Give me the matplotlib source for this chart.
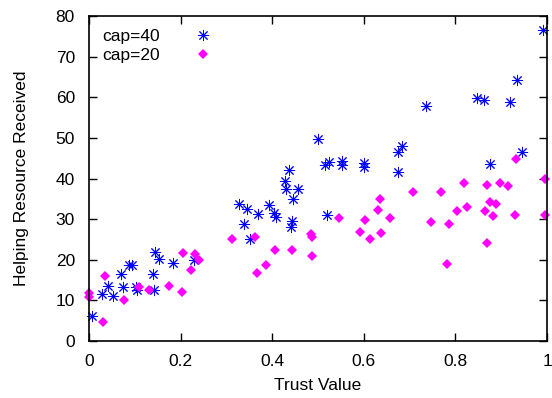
import matplotlib
matplotlib.use('Agg')
import matplotlib.pyplot as plt

plt.rcParams['font.family'] = ['Liberation Sans', 'DejaVu Sans']

# cap=40 series (blue asterisks)
trust40 = [0.007, 0.029, 0.042, 0.052, 0.070, 0.075, 0.088, 0.095, 0.103, 0.104,
           0.140, 0.143, 0.145, 0.152, 0.183, 0.229, 0.328, 0.346, 0.338, 0.370,
           0.351, 0.394, 0.405, 0.408, 0.437, 0.427, 0.430, 0.456, 0.446, 0.443,
           0.441, 0.501, 0.516, 0.525, 0.552, 0.552, 0.600, 0.601, 0.519, 0.674,
           0.674, 0.991, 0.934, 0.848, 0.862, 0.920, 0.736, 0.684, 0.946, 0.876]
res40 = [6.2, 11.6, 13.5, 11.2, 16.5, 13.2, 18.6, 18.8, 13.4, 12.6,
         16.5, 12.6, 21.8, 20.3, 19.3, 19.9, 33.8, 32.6, 28.7, 31.2,
         25.2, 33.4, 31.4, 30.6, 42.2, 39.5, 37.3, 37.5, 34.9, 29.5,
         28.0, 49.7, 43.3, 44.0, 44.3, 43.3, 43.7, 42.9, 31.1, 46.4,
         41.6, 76.6, 64.3, 59.9, 59.3, 58.8, 57.9, 48.1, 46.6, 43.6]

# cap=20 series (magenta diamonds)
trust20 = [0.000, 0.000, 0.035, 0.031, 0.077, 0.109, 0.132, 0.174, 0.204, 0.205,
           0.232, 0.240, 0.223, 0.312, 0.363, 0.367, 0.386, 0.407, 0.444, 0.485,
           0.486, 0.488, 0.546, 0.591, 0.603, 0.613, 0.631, 0.636, 0.638, 0.658,
           0.708, 0.747, 0.768, 0.786, 0.782, 0.803, 0.819, 0.825, 0.868, 0.865,
           0.870, 0.876, 0.888, 0.881, 0.898, 0.914, 0.929, 0.932, 0.996, 0.995]
res20 = [11.9, 10.9, 16.1, 4.6, 10.1, 13.2, 12.5, 13.5, 12.1, 21.6,
         21.4, 19.9, 17.4, 25.0, 25.5, 16.8, 18.7, 22.3, 22.3, 26.4,
         25.6, 20.9, 30.4, 26.9, 29.8, 25.2, 32.2, 34.9, 26.6, 30.3,
         36.8, 29.4, 36.6, 28.7, 19.0, 32.1, 39.0, 33.0, 38.5, 32.1,
         24.2, 34.1, 33.8, 30.8, 39.0, 38.2, 30.9, 44.9, 40.0, 31.0]

fs = 12.5

fig = plt.figure(figsize=(5.52, 3.98), dpi=100)
ax = fig.add_axes([0.161, 0.143, 0.830, 0.817])

ax.plot(trust40, res40, linestyle='none', marker=(8, 2, 0), markersize=8,
        markeredgewidth=0.7, color='#0000ff', label='cap=40', clip_on=False)
ax.plot(trust20, res20, linestyle='none', marker='D', markersize=5.5,
        color='#ff00ff', markeredgewidth=0, label='cap=20', clip_on=False)

ax.set_xlim(0, 1)
ax.set_ylim(0, 80)
ax.set_xticks([0, 0.2, 0.4, 0.6, 0.8, 1])
ax.set_xticklabels(['0', '0.2', '0.4', '0.6', '0.8', '1'])
ax.set_yticks(range(0, 81, 10))
ax.tick_params(direction='in', top=True, right=True, length=5.5, width=1,
               labelsize=fs)
ax.tick_params(axis='x', pad=9)
ax.tick_params(axis='y', pad=10)
for s in ax.spines.values():
    s.set_linewidth(1.2)

ax.set_xlabel('Trust Value', fontsize=fs, labelpad=7)
ax.set_ylabel('Helping Resource Received', fontsize=fs, labelpad=19)

ax.legend(loc='upper left', frameon=False, markerfirst=False, fontsize=fs,
          handletextpad=2.0, borderaxespad=0.35, labelspacing=0.2,
          handlelength=1.0)

fig.savefig('out.png', dpi=100)
